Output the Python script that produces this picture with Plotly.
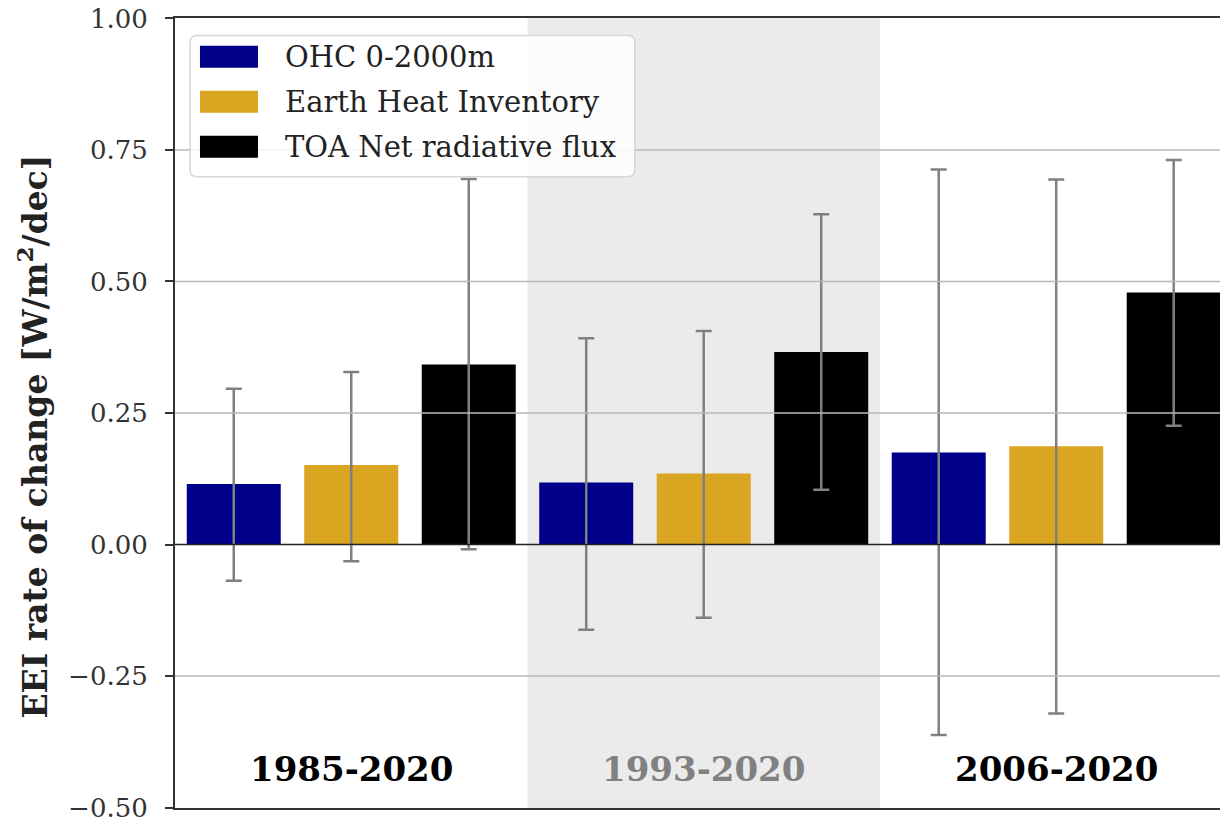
import plotly.graph_objects as go

# ---- data -------------------------------------------------------------
periods = ["1985-2020", "1993-2020", "2006-2020"]
period_colors = ["black", "#808080", "black"]
series_names = ["OHC 0-2000m", "Earth Heat Inventory", "TOA Net radiative flux"]
series_colors = ["#00008B", "#DAA520", "#000000"]

# trend values per period, one list per series
ohc_vals = [0.115, 0.118, 0.175]
ehi_vals = [0.151, 0.135, 0.187]
toa_vals = [0.342, 0.366, 0.479]

# uncertainty range (low, high) per period
ohc_low = [-0.069, -0.162, -0.362]
ohc_high = [0.296, 0.392, 0.713]
ehi_low = [-0.032, -0.139, -0.321]
ehi_high = [0.328, 0.406, 0.694]
toa_low = [-0.009, 0.104, 0.226]
toa_high = [0.695, 0.628, 0.731]

y_ticks = [-0.50, -0.25, 0.00, 0.25, 0.50, 0.75, 1.00]

series_vals = [ohc_vals, ehi_vals, toa_vals]
series_low = [ohc_low, ehi_low, toa_low]
series_high = [ohc_high, ehi_high, toa_high]

n_series = len(series_names)
serif = "DejaVu Serif"
plot_w, plot_h = 1045, 790  # plot area size in px

fig = go.Figure()

for s, name in enumerate(series_names):
    xs = [p * n_series + s for p in range(len(periods))]
    vals = series_vals[s]
    fig.add_trace(go.Bar(
        x=xs,
        y=vals,
        width=0.8,
        name=name,
        marker=dict(color=series_colors[s], line=dict(width=0)),
        error_y=dict(
            type="data",
            symmetric=False,
            array=[h - v for h, v in zip(series_high[s], vals)],
            arrayminus=[v - l for l, v in zip(series_low[s], vals)],
            color="#808080",
            thickness=2.5,
            width=8,
        ),
        showlegend=False,
    ))

shapes = []
annotations = []

# shaded middle period
shapes.append(dict(type="rect", xref="x", yref="paper",
                   x0=1 * n_series - 0.5, x1=2 * n_series - 0.5, y0=0, y1=1,
                   fillcolor="#ebebeb", line=dict(width=0), layer="below"))

# horizontal grid drawn over the bars
for t in y_ticks[1:-1]:
    if t == 0:
        continue
    shapes.append(dict(type="line", xref="paper", yref="y", x0=0, x1=1, y0=t, y1=t,
                       line=dict(color="#b8b8b8", width=1.6), layer="above"))
# zero line
shapes.append(dict(type="line", xref="paper", yref="y", x0=0, x1=1, y0=0, y1=0,
                   line=dict(color="#222222", width=1.6), layer="above"))

# period labels
for p, label in enumerate(periods):
    annotations.append(dict(
        x=p * n_series + (n_series - 1) / 2, y=-0.427, xref="x", yref="y",
        text=f"<b>{label}</b>", showarrow=False,
        font=dict(family=serif, size=34, color=period_colors[p]),
        xanchor="center", yanchor="middle",
    ))


def rounded_box(x0, x1, y0, y1, r_px):
    rx, ry = r_px / plot_w, r_px / plot_h
    return (f"M {x0 + rx},{y0} L {x1 - rx},{y0} Q {x1},{y0} {x1},{y0 + ry} "
            f"L {x1},{y1 - ry} Q {x1},{y1} {x1 - rx},{y1} "
            f"L {x0 + rx},{y1} Q {x0},{y1} {x0},{y1 - ry} "
            f"L {x0},{y0 + ry} Q {x0},{y0} {x0 + rx},{y0} Z")


# legend box
shapes.append(dict(type="path", xref="paper", yref="paper",
                   path=rounded_box(0.0144, 0.440, 0.799, 0.978, 7),
                   fillcolor="rgba(255,255,255,0.85)",
                   line=dict(color="#d6d6d6", width=1.5), layer="above"))
row_y = [0.951, 0.894, 0.837]
for s, name in enumerate(series_names):
    shapes.append(dict(type="rect", xref="paper", yref="paper",
                       x0=0.0239, x1=0.0794, y0=row_y[s] - 0.0139, y1=row_y[s] + 0.0139,
                       fillcolor=series_colors[s], line=dict(width=0), layer="above"))
    annotations.append(dict(
        x=0.1033, y=row_y[s], xref="paper", yref="paper",
        text=name, showarrow=False, xanchor="left", yanchor="middle",
        font=dict(family=serif, size=29, color="#222222"),
    ))

# y-axis title
annotations.append(dict(
    x=-0.136, y=0.47, xref="paper", yref="paper",
    text="<b>EEI rate of change [W/m<sup>2</sup>/dec]</b>", showarrow=False,
    textangle=-90, xanchor="center", yanchor="middle",
    font=dict(family=serif, size=33, color="#222222"),
))

fig.update_layout(
    width=1220, height=822,
    margin=dict(l=175, r=0, t=18, b=14),
    plot_bgcolor="white", paper_bgcolor="white",
    barmode="overlay",
    shapes=shapes, annotations=annotations,
    xaxis=dict(range=[-0.5, 8.394], showticklabels=False, ticks="",
               showgrid=False, zeroline=False,
               showline=True, linecolor="#333333", linewidth=2, mirror=True),
    yaxis=dict(range=[-0.5008, 1.0008], tickvals=y_ticks,
               ticktext=[f"{t:.2f}".replace("-", "\u2212") for t in y_ticks],
               ticks="outside", ticklen=8, tickwidth=1.5, tickcolor="#333333",
               ticklabelstandoff=12, ticklabeloverflow="allow",
               tickfont=dict(family=serif, size=26, color="#333333"),
               showgrid=False, zeroline=False,
               showline=True, linecolor="#333333", linewidth=2),
)

fig.write_html("out.html")
